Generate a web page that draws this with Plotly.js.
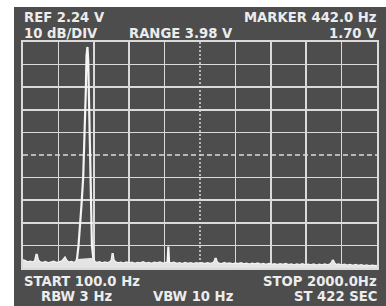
<!DOCTYPE html>
<html>
<head>
<meta charset="utf-8">
<script src="https://cdn.plot.ly/plotly-3.0.1.min.js"></script>
<style>html,body{margin:0;padding:0;background:#fff;}#chart{width:386px;height:306px;}</style>
</head>
<body>
<div id="chart"></div>
<script>
const startHz = 100;
const stopHz = 2000;
const refDb = 0;          // top graticule line = REF 2.24 V
const dbPerDiv = 10;
const divisions = 10;

const freqHz = [
  100,110,125,140,155,165,173,180,190,205,220,235,250,265,280,295,310,318,325,332,
  345,360,375,385,390,398,406,414,423,431,437,441,443,446,450,455,459,462,466,470,
  477,484,495,510,525,540,555,568,576,581,586,595,610,625,640,655,670,685,700,715,
  730,745,760,775,790,805,820,835,850,865,876,880,884,895,910,925,940,955,970,985,
  1000,1015,1030,1045,1060,1075,1090,1105,1120,1128,1134,1140,1150,1165,1180,1195,1210,1225,1240,1255,
  1270,1285,1300,1315,1330,1345,1360,1375,1390,1405,1420,1435,1450,1465,1480,1495,1510,1525,1540,1555,
  1570,1585,1600,1615,1630,1645,1660,1675,1690,1705,1720,1735,1750,1758,1764,1770,1780,1795,1810,1825,
  1840,1855,1870,1885,1900,1915,1930,1945,1960,1975,1990,2000
];
const levelDb = [
  -96.5,-96.8,-97.5,-97.2,-97.6,-96.8,-93.8,-96.5,-97.4,-97.8,-97.3,-97.9,-97.5,-97.2,-97.8,-97.4,-97.0,-96.2,-95.5,-96.6,
  -97.6,-97.3,-97.8,-97.2,-96.0,-90,-82,-72,-60,-42,-22,-6,-2.2,-2.2,-8,-30,-52,-70,-82,-90,
  -95.5,-97.3,-97.8,-97.4,-97.9,-97.5,-97.9,-97.3,-96.5,-93.4,-96.4,-97.4,-97.9,-97.6,-98.0,-97.5,-97.9,-97.6,-98.1,-97.7,
  -97.9,-97.4,-98.0,-97.7,-98.1,-97.6,-97.9,-97.5,-98.0,-97.7,-97.6,-90.5,-97.6,-97.9,-97.6,-98.1,-97.8,-98.2,-97.7,-98.1,
  -97.8,-98.2,-97.8,-98.1,-97.9,-98.3,-97.9,-98.2,-97.8,-97.2,-95.6,-97.4,-98.0,-98.3,-97.8,-98.2,-98.0,-98.4,-98.0,-98.3,
  -97.9,-98.4,-98.1,-98.5,-98.1,-98.4,-98.0,-98.5,-98.2,-98.6,-98.2,-98.6,-98.3,-98.7,-98.3,-98.6,-98.2,-98.7,-98.4,-98.8,
  -98.4,-98.7,-98.3,-98.8,-98.5,-98.8,-98.4,-98.9,-98.5,-98.8,-98.4,-98.8,-98.3,-97.5,-96.5,-97.8,-98.7,-98.4,-98.9,-98.5,
  -98.9,-98.6,-99.0,-98.6,-99.0,-98.7,-99.1,-98.8,-99.2,-98.9,-99.2,-99.0
];

const topLeftLines = ["REF 2.24 V", "10 dB/DIV"];
const rangeLabel = "RANGE 3.98 V";
const topRightLines = ["MARKER 442.0 Hz", "1.70 V"];
const bottomLeftLines = ["START 100.0 Hz", "RBW 3 Hz"];
const vbwLabel = "VBW 10 Hz";
const bottomRightLines = ["STOP 2000.0Hz", "ST 422 SEC"];

// ---- Layout geometry ----
const W = 386, H = 306;
const L = 23, R = 377, T = 42, B = 268;
const px2x = p => (p - L) / (R - L);
const px2y = p => (B - p) / (B - T);

const bottomDb = refDb - dbPerDiv * divisions;
const xDiv = (stopHz - startHz) / divisions;
const centerHz = (startHz + stopHz) / 2;
const centerDb = (refDb + bottomDb) / 2;
const xGrid = [], yGrid = [];
for (let i = 1; i < divisions; i++) {
  if (i !== divisions / 2) {
    xGrid.push(startHz + i * xDiv);
    yGrid.push(bottomDb + i * dbPerDiv);
  }
}

const gridCol = '#dadada';
const txtCol = '#ececec';
const font = {family: 'DejaVu Sans', size: 13.2, color: txtCol, weight: 'bold'};

const floorFill = levelDb.map(v => v >= -92 ? null : v - bottomDb);

const traces = [
  {x: freqHz, y: floorFill, yaxis: 'y2', type: 'scatter', mode: 'lines',
   fill: 'tozeroy', fillcolor: '#e4e4e4', line: {width: 0, color: '#e4e4e4'},
   connectgaps: false, hoverinfo: 'skip'},
  {x: freqHz, y: levelDb, type: 'scatter', mode: 'lines',
   line: {color: '#f4f4f4', width: 2.2}, hoverinfo: 'skip'}
];

const dy = 0.5;
function ann(text, xp, yp, anchor) {
  return {text: text, xref: 'paper', yref: 'paper', x: px2x(xp), y: px2y(yp + dy),
          xanchor: anchor, yanchor: 'middle', showarrow: false, font: font, borderpad: 0};
}

const layout = {
  width: W, height: H,
  margin: {l: L, r: W - R, t: T, b: H - B, pad: 0},
  paper_bgcolor: '#ffffff',
  plot_bgcolor: 'rgba(0,0,0,0)',
  showlegend: false,
  xaxis: {range: [startHz, stopHz], tickmode: 'array', tickvals: xGrid, showticklabels: false,
          ticks: '', showgrid: true, gridcolor: gridCol, gridwidth: 1.5, zeroline: false,
          showline: true, linecolor: gridCol, linewidth: 2, mirror: true, fixedrange: true},
  yaxis: {range: [bottomDb, refDb], tickmode: 'array', tickvals: yGrid, showticklabels: false,
          ticks: '', showgrid: true, gridcolor: gridCol, gridwidth: 1.5, zeroline: false,
          showline: true, linecolor: gridCol, linewidth: 2, mirror: true, fixedrange: true},
  yaxis2: {range: [0, refDb - bottomDb], overlaying: 'y', visible: false, fixedrange: true},
  shapes: [
    {type: 'rect', xref: 'paper', yref: 'paper', x0: px2x(14), x1: px2x(W + 2),
     y0: px2y(H + 2), y1: px2y(7), fillcolor: '#4d4d4d', line: {width: 0}, layer: 'below'},
    {type: 'line', xref: 'x', yref: 'paper', x0: centerHz, x1: centerHz, y0: 0, y1: 1,
     line: {color: gridCol, width: 1.5, dash: '2px,2px'}, layer: 'below'},
    {type: 'line', xref: 'paper', yref: 'y', x0: 0, x1: 1, y0: centerDb, y1: centerDb,
     line: {color: gridCol, width: 1.5, dash: '5px,3px'}, layer: 'below'}
  ],
  annotations: [
    ann(topLeftLines[0], 23, 17.2, 'left'),
    ann(topLeftLines[1], 23, 33.5, 'left'),
    ann(rangeLabel, 128, 33.5, 'left'),
    ann(topRightLines[0], 378, 17.2, 'right'),
    ann(topRightLines[1], 378, 33.5, 'right'),
    ann(bottomLeftLines[0], 23, 281.3, 'left'),
    ann(bottomLeftLines[1], 40, 296.2, 'left'),
    ann(vbwLabel, 152, 296.2, 'left'),
    ann(bottomRightLines[0], 378, 281.3, 'right'),
    ann(bottomRightLines[1], 378, 296.2, 'right')
  ]
};

Plotly.newPlot('chart', traces, layout, {staticPlot: true, displayModeBar: false});
</script>
</body>
</html>
